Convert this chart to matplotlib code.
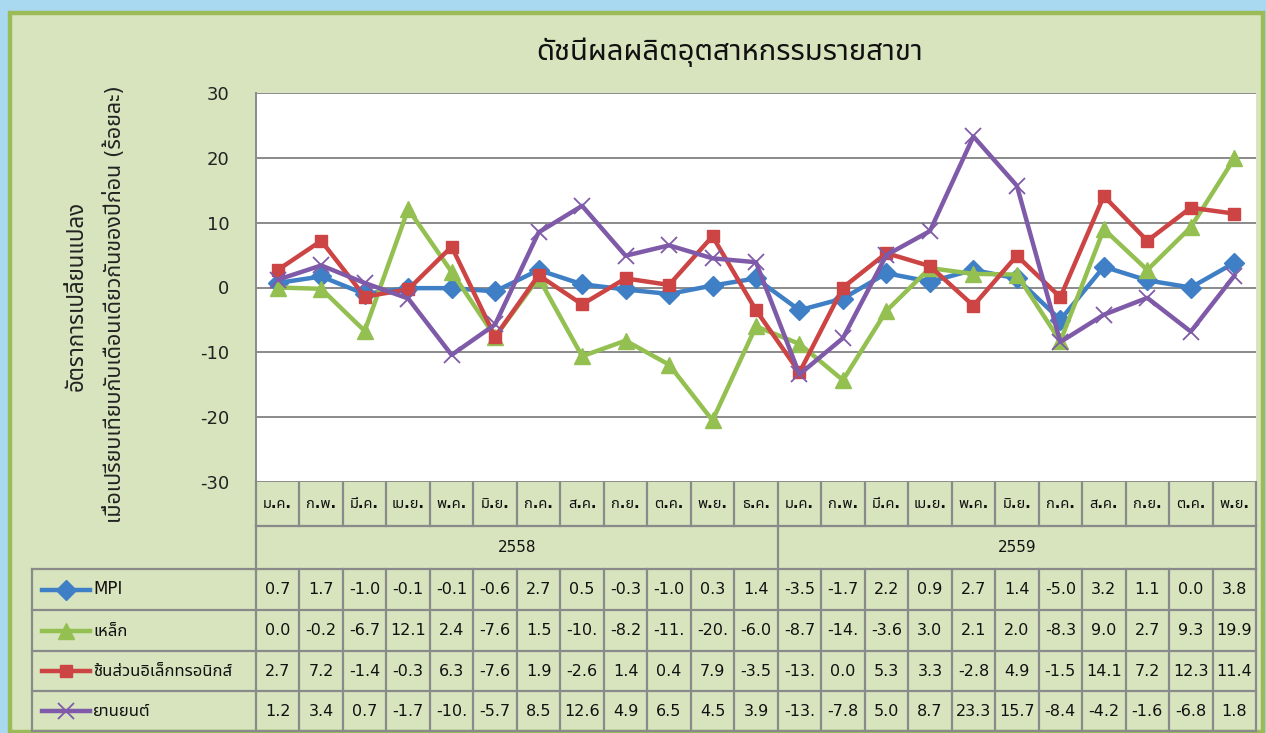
import matplotlib

matplotlib.use("Agg")

import matplotlib.pyplot as plt
from matplotlib import font_manager
from matplotlib.lines import Line2D
from matplotlib.patches import Rectangle

# ---------------------------------------------------------------------------
# Data (year-on-year % change, read off the chart / table)
# ---------------------------------------------------------------------------
MONTHS_2558 = ["ม.ค.", "ก.พ.", "มี.ค.", "เม.ย.", "พ.ค.", "มิ.ย.",
               "ก.ค.", "ส.ค.", "ก.ย.", "ต.ค.", "พ.ย.", "ธ.ค."]
MONTHS_2559 = ["ม.ค.", "ก.พ.", "มี.ค.", "เม.ย.", "พ.ค.", "มิ.ย.",
               "ก.ค.", "ส.ค.", "ก.ย.", "ต.ค.", "พ.ย."]
YEARS = ["2558", "2559"]

mpi = [0.7, 1.7, -1.0, -0.1, -0.1, -0.6, 2.7, 0.5, -0.3, -1.0, 0.3, 1.4,
       -3.5, -1.7, 2.2, 0.9, 2.7, 1.4, -5.0, 3.2, 1.1, 0.0, 3.8]
steel = [0.0, -0.2, -6.7, 12.1, 2.4, -7.6, 1.5, -10.6, -8.2, -11.9, -20.5, -6.0,
         -8.7, -14.3, -3.6, 3.0, 2.1, 2.0, -8.3, 9.0, 2.7, 9.3, 19.9]
electronics = [2.7, 7.2, -1.4, -0.3, 6.3, -7.6, 1.9, -2.6, 1.4, 0.4, 7.9, -3.5,
               -13.1, 0.0, 5.3, 3.3, -2.8, 4.9, -1.5, 14.1, 7.2, 12.3, 11.4]
automotive = [1.2, 3.4, 0.7, -1.7, -10.4, -5.7, 8.5, 12.6, 4.9, 6.5, 4.5, 3.9,
              -13.4, -7.8, 5.0, 8.7, 23.3, 15.7, -8.4, -4.2, -1.6, -6.8, 1.8]

SERIES = [
    ("MPI", mpi, "#3f7fc6", "D", 10),
    ("เหล็ก", steel, "#93c050", "^", 12),
    ("ชิ้นส่วนอิเล็กทรอนิกส์", electronics, "#cc4444", "s", 8.5),
    ("ยานยนต์", automotive, "#7f5aa8", "x", 12),
]

TITLE = "ดัชนีผลผลิตอุตสาหกรรมรายสาขา"
YLABEL_1 = "อัตราการเปลี่ยนแปลง"
YLABEL_2 = "เมื่อเปรียบเทียบกับเดือนเดียวกันของปีก่อน (ร้อยละ)"

# ---------------------------------------------------------------------------
# Fonts: DejaVu for digits/latin, a Thai family for the rest
# ---------------------------------------------------------------------------
avail = {f.name for f in font_manager.fontManager.ttflist}
thai = next((n for n in ["Noto Sans Thai", "Bai Jamjuree", "Chakra Petch", "Sarabun"]
             if n in avail), "DejaVu Sans")
plt.rcParams["font.family"] = ["DejaVu Sans", thai]
plt.rcParams["axes.unicode_minus"] = False

W, H = 1266, 733
fig = plt.figure(figsize=(W / 100, H / 100), dpi=100, facecolor="#a9d9f1")

# Overlay in pixel coordinates for frame + table
bg = fig.add_axes([0, 0, 1, 1], zorder=0)
bg.set_xlim(0, W)
bg.set_ylim(H, 0)
bg.axis("off")
bg.add_patch(Rectangle((10, 13), 1253, 719, facecolor="#d7e4bd",
                       edgecolor="#9bbb59", lw=3.2))

# ---------------------------------------------------------------------------
# Chart
# ---------------------------------------------------------------------------
PL, PR, PT, PB = 256, 1256, 93, 482
ax = fig.add_axes([PL / W, 1 - PB / H, (PR - PL) / W, (PB - PT) / H], zorder=2)
ax.set_facecolor("white")
n = len(mpi)
x = list(range(n))
for name, vals, color, marker, ms in SERIES:
    kw = dict(mew=1.3) if marker == "x" else dict(mec=color)
    ax.plot(x, vals, color=color, lw=3.2, marker=marker, ms=ms, mfc=color,
            clip_on=False, **kw)

ax.set_xlim(-0.5, n - 0.5)
ax.set_ylim(-30, 30)
ax.set_yticks(range(-30, 31, 10))
ax.set_xticks([])
ax.grid(axis="y", color="#8a8a8a", lw=1.4)
ax.set_axisbelow(True)
ax.tick_params(axis="y", length=0, pad=19, labelsize=13, labelcolor="#222222")
for s in ax.spines.values():
    s.set_visible(False)
ax.spines["left"].set_visible(True)
ax.spines["left"].set_color("#8a8a8a")
ax.spines["left"].set_linewidth(1.4)

fig.text(730 / W, 1 - 52 / H, TITLE, ha="center", va="center", fontsize=21,
         color="#111111")
fig.text(77 / W, 1 - 296 / H, YLABEL_1, ha="center", va="center", rotation=90,
         fontsize=16, color="#222222")
fig.text(114 / W, 1 - 304 / H, YLABEL_2, ha="center", va="center", rotation=90,
         fontsize=15.5, color="#222222")

# ---------------------------------------------------------------------------
# Data table under the chart
# ---------------------------------------------------------------------------
GRID = "#8a8a8a"
cw = (PR - PL) / n
col_edges = [PL + k * cw for k in range(n + 1)]
ROW_MONTH = (482, 526)
ROW_YEAR = (526, 569)
data_rows = [569, 610, 651, 691, 731]
LEG_L = 32


def hline(y, x0, x1):
    bg.add_line(Line2D([x0, x1], [y, y], color=GRID, lw=1.6))


def vline(xp, y0, y1):
    bg.add_line(Line2D([xp, xp], [y0, y1], color=GRID, lw=1.6))


months = MONTHS_2558 + MONTHS_2559
hline(ROW_MONTH[1], PL, PR)
for k, xe in enumerate(col_edges):
    vline(xe, ROW_MONTH[0], ROW_MONTH[1])
for k, m in enumerate(months):
    bg.text((col_edges[k] + col_edges[k + 1]) / 2, sum(ROW_MONTH) / 2, m,
            ha="center", va="center", fontsize=10.5, fontweight="bold",
            color="#111111")

split = col_edges[len(MONTHS_2558)]
for xe in (PL, split, PR):
    vline(xe, ROW_YEAR[0], ROW_YEAR[1])
bg.text((PL + split) / 2, sum(ROW_YEAR) / 2, YEARS[0], ha="center", va="center",
        fontsize=11, color="#111111")
bg.text((split + PR) / 2, sum(ROW_YEAR) / 2, YEARS[1], ha="center", va="center",
        fontsize=11, color="#111111")

for y in data_rows:
    hline(y, LEG_L, PR)
for xe in [LEG_L] + col_edges:
    vline(xe, data_rows[0], data_rows[-1])

for r, (name, vals, color, marker, ms) in enumerate(SERIES):
    yc = (data_rows[r] + data_rows[r + 1]) / 2
    kw = dict(mew=1.3) if marker == "x" else dict(mec=color)
    bg.add_line(Line2D([42, 90], [yc, yc], color=color, lw=3.2))
    bg.add_line(Line2D([66], [yc], color=color, marker=marker, ms=ms, mfc=color,
                       **kw))
    bg.text(93, yc, name, ha="left", va="center", fontsize=12, color="#111111")
    for k, v in enumerate(vals):
        bg.text((col_edges[k] + col_edges[k + 1]) / 2, yc, f"{v:.1f}"[:4],
                ha="center", va="center", fontsize=11.5, color="#111111")

fig.savefig("out.png", dpi=100, facecolor=fig.get_facecolor())
